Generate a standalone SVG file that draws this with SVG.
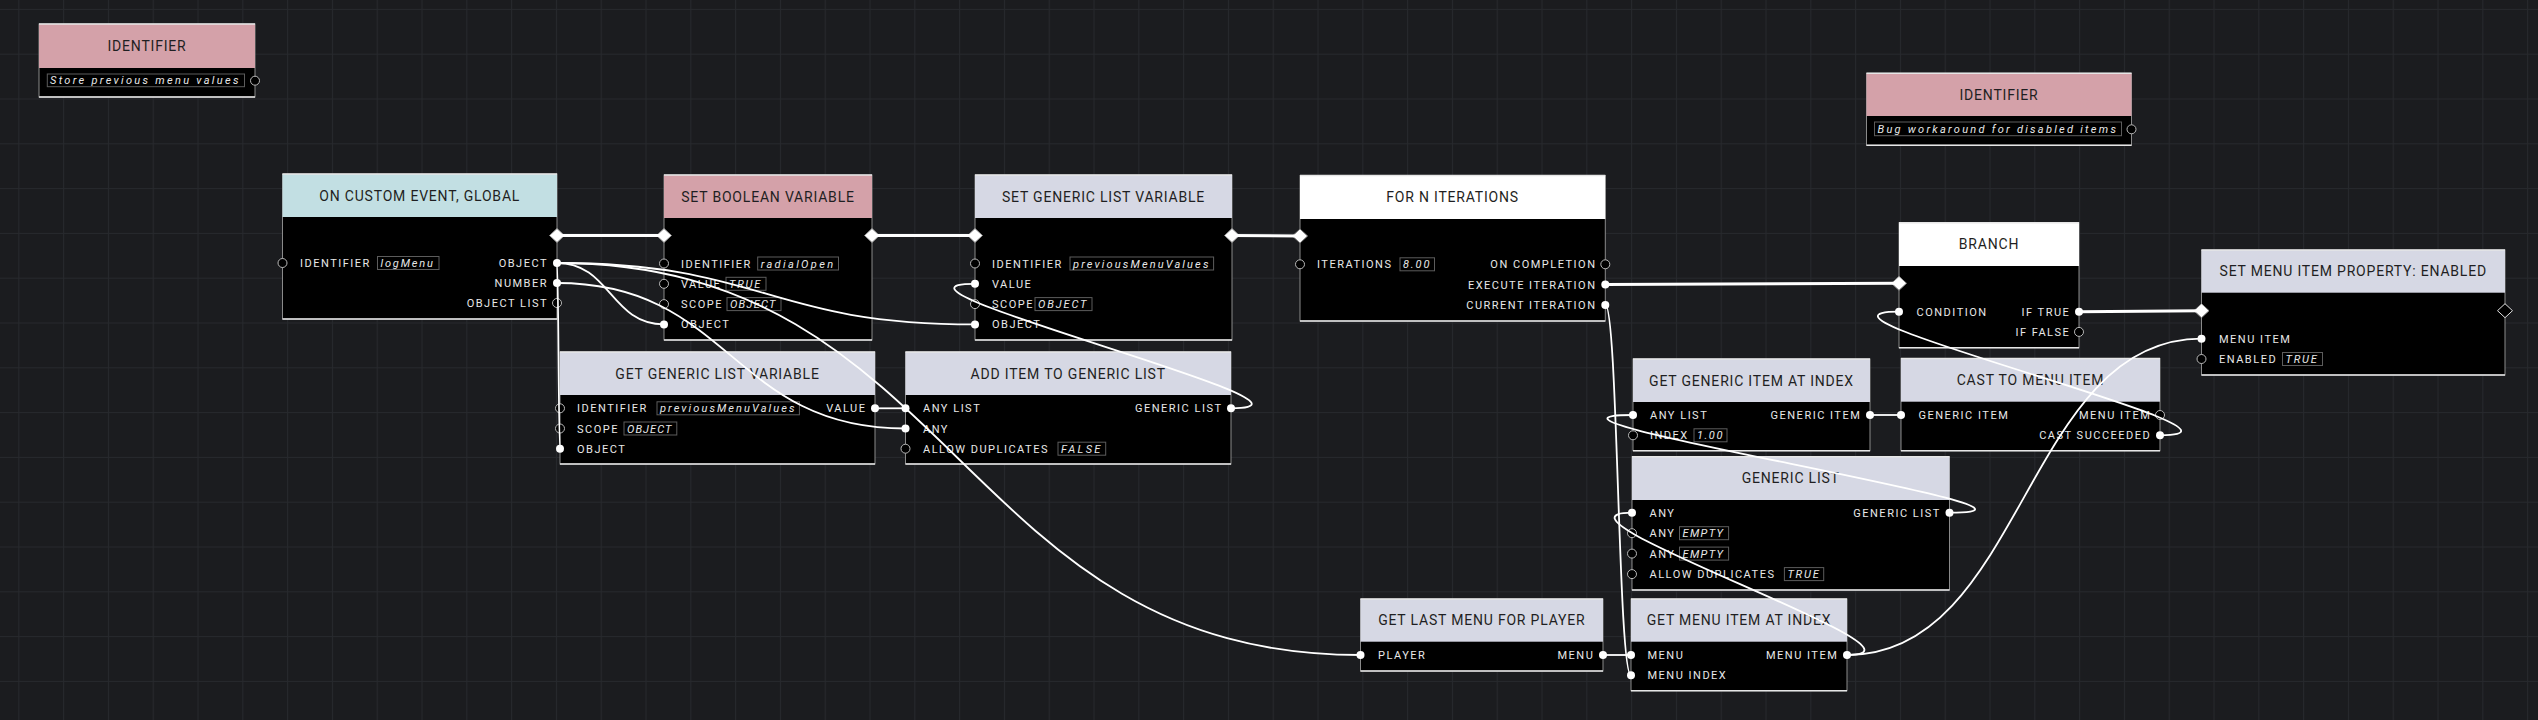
<svg xmlns="http://www.w3.org/2000/svg" xmlns:xlink="http://www.w3.org/1999/xlink" width="2538" height="720" viewBox="0 0 2538 720">
<style>
.bg{fill:#1b1c1f}
.frame{fill:#000;stroke:#8a8a8a;stroke-width:1}
.edge{stroke:#e6e6e6;stroke-width:1.5;fill:none}
.pink{fill:#d4a1a9}.cyan{fill:#c2dfe3}.lav{fill:#d6d8e4}.wht{fill:#fff}
.title{font-family:Roboto,"Liberation Sans",sans-serif;font-size:14px;letter-spacing:0.8px;fill:#1f1f22;text-anchor:middle}
.lbl{font-family:Roboto,"Liberation Sans",sans-serif;font-size:11px;letter-spacing:1.5px;fill:#e8e8e8}
.r{text-anchor:end}
.val{font-family:Roboto,"Liberation Sans",sans-serif;font-size:11px;font-style:italic;letter-spacing:1.6px;fill:#e8e8e8}
.vbox{fill:none;stroke:#5c5c5c;stroke-width:1}
.pf{fill:#fff}
.ph{fill:#000;stroke:#b8b8b8;stroke-width:1}
.df{fill:#fff;stroke:#8a8a8a;stroke-width:1}
.dh{fill:#000;stroke:#e0e0e0;stroke-width:1}
.ex{fill:none;stroke:#fff;stroke-width:3}
.dw{fill:none;stroke:#fff;stroke-width:1.8}
</style>
<defs>
<pattern id="grid" x="18.3" y="8.9" width="44.8" height="44.8" patternUnits="userSpaceOnUse">
<path d="M0,0 H44.8 M0,0 V44.8" stroke="#27292d" stroke-width="2" fill="none"/>
</pattern>
<path id="dmd" d="M-7.5,0 L0,-7 L7.5,0 L0,7 Z"/>
</defs>
<rect class="bg" x="0" y="0" width="2538" height="720"/>
<rect x="0" y="0" width="2538" height="720" fill="url(#grid)"/>

<g id="node-identifier-1">
<rect class="frame" x="39" y="24" width="216" height="73"/>
<rect class="pink" x="39" y="24" width="216" height="44"/>
<path class="edge" d="M39,24 H255 M39,97 H255"/>
<text class="title" x="147" y="51">IDENTIFIER</text>
<rect class="vbox" x="47.3" y="74" width="197.2" height="12.7"/>
<text class="val" x="50" y="84.3" textLength="190" lengthAdjust="spacing">Store previous menu values</text>
<circle class="ph" cx="255" cy="80.7" r="4.5"/>
</g>

<g id="node-on-custom-event">
<rect class="frame" x="282.5" y="174" width="274.5" height="145"/>
<rect class="cyan" x="282.5" y="174" width="274.5" height="43"/>
<path class="edge" d="M282.5,174 H557 M282.5,319 H557"/>
<text class="title" x="419.75" y="200.5">ON CUSTOM EVENT, GLOBAL</text>
<use href="#dmd" class="df" x="557" y="235.5"/>
<circle class="ph" cx="282.5" cy="263" r="4.5"/>
<text class="lbl" x="300" y="267">IDENTIFIER</text>
<rect class="vbox" x="377.5" y="256.5" width="61.5" height="13"/>
<text class="val" x="380.5" y="267" textLength="54" lengthAdjust="spacing">logMenu</text>
<text class="lbl r" x="548" y="267">OBJECT</text>
<circle class="pf" cx="557" cy="263" r="4"/>
<text class="lbl r" x="548" y="287">NUMBER</text>
<circle class="pf" cx="557" cy="283" r="4"/>
<text class="lbl r" x="548" y="307">OBJECT LIST</text>
<circle class="ph" cx="557" cy="303" r="4.5"/>
</g>

<g id="node-set-boolean-variable">
<rect class="frame" x="664" y="175" width="208" height="165"/>
<rect class="pink" x="664" y="175" width="208" height="43"/>
<path class="edge" d="M664,175 H872 M664,340 H872"/>
<text class="title" x="768" y="201.5">SET BOOLEAN VARIABLE</text>
<use href="#dmd" class="df" x="664" y="235.5"/>
<use href="#dmd" class="df" x="872" y="235.5"/>
<circle class="ph" cx="664" cy="263.5" r="4.5"/>
<text class="lbl" x="681" y="267.5">IDENTIFIER</text>
<rect class="vbox" x="757.7" y="257" width="80.8" height="13"/>
<text class="val" x="760.7" y="267.5" textLength="74" lengthAdjust="spacing">radialOpen</text>
<circle class="ph" cx="664" cy="283.8" r="4.5"/>
<text class="lbl" x="681" y="287.8">VALUE</text>
<rect class="vbox" x="726" y="277.3" width="40" height="13"/>
<text class="val" x="729" y="287.8" textLength="33" lengthAdjust="spacing">TRUE</text>
<circle class="ph" cx="664" cy="304.1" r="4.5"/>
<text class="lbl" x="681" y="308.1">SCOPE</text>
<rect class="vbox" x="727" y="297.6" width="54" height="13"/>
<text class="val" x="730" y="308.1" textLength="47" lengthAdjust="spacing">OBJECT</text>
<circle class="pf" cx="664" cy="324.4" r="4"/>
<text class="lbl" x="681" y="328.4">OBJECT</text>
</g>

<g id="node-set-generic-list-variable">
<rect class="frame" x="975" y="175" width="257" height="165"/>
<rect class="lav" x="975" y="175" width="257" height="43"/>
<path class="edge" d="M975,175 H1232 M975,340 H1232"/>
<text class="title" x="1103.5" y="201.5">SET GENERIC LIST VARIABLE</text>
<use href="#dmd" class="df" x="975" y="235.5"/>
<use href="#dmd" class="df" x="1232" y="235.5"/>
<circle class="ph" cx="975" cy="263.5" r="4.5"/>
<text class="lbl" x="992" y="267.5">IDENTIFIER</text>
<rect class="vbox" x="1070" y="257" width="143.6" height="13"/>
<text class="val" x="1073" y="267.5" textLength="137" lengthAdjust="spacing">previousMenuValues</text>
<circle class="pf" cx="975" cy="283.8" r="4"/>
<text class="lbl" x="992" y="287.8">VALUE</text>
<circle class="ph" cx="975" cy="304.1" r="4.5"/>
<text class="lbl" x="992" y="308.1">SCOPE</text>
<rect class="vbox" x="1035" y="297.6" width="57" height="13"/>
<text class="val" x="1038" y="308.1" textLength="50" lengthAdjust="spacing">OBJECT</text>
<circle class="pf" cx="975" cy="324.4" r="4"/>
<text class="lbl" x="992" y="328.4">OBJECT</text>
</g>

<g id="node-for-n-iterations">
<rect class="frame" x="1300" y="175.5" width="305.3" height="145.5"/>
<rect class="wht" x="1300" y="175.5" width="305.3" height="43.5"/>
<path class="edge" d="M1300,175.5 H1605.3 M1300,321 H1605.3"/>
<text class="title" x="1452.6" y="202.2">FOR N ITERATIONS</text>
<use href="#dmd" class="df" x="1300" y="236"/>
<circle class="ph" cx="1300" cy="264.3" r="4.5"/>
<text class="lbl" x="1317" y="268.3">ITERATIONS</text>
<rect class="vbox" x="1400" y="257.8" width="34.5" height="13"/>
<text class="val" x="1403" y="268.3" textLength="28" lengthAdjust="spacing">8.00</text>
<text class="lbl r" x="1596.5" y="268.3">ON COMPLETION</text>
<circle class="ph" cx="1605.3" cy="264.3" r="4.5"/>
<text class="lbl r" x="1596.5" y="288.6">EXECUTE ITERATION</text>
<circle class="pf" cx="1605.3" cy="284.6" r="4"/>
<text class="lbl r" x="1596.5" y="309">CURRENT ITERATION</text>
<circle class="pf" cx="1605.3" cy="305" r="4"/>
</g>

<g id="node-get-generic-list-variable">
<rect class="frame" x="560" y="352" width="315" height="112"/>
<rect class="lav" x="560" y="352" width="315" height="43"/>
<path class="edge" d="M560,352 H875 M560,464 H875"/>
<text class="title" x="717.5" y="378.5">GET GENERIC LIST VARIABLE</text>
<circle class="ph" cx="560" cy="408.3" r="4.5"/>
<text class="lbl" x="577" y="412.3">IDENTIFIER</text>
<rect class="vbox" x="657" y="401.8" width="142.4" height="13"/>
<text class="val" x="660" y="412.3" textLength="136" lengthAdjust="spacing">previousMenuValues</text>
<circle class="ph" cx="560" cy="428.5" r="4.5"/>
<text class="lbl" x="577" y="432.5">SCOPE</text>
<rect class="vbox" x="624" y="422" width="52.8" height="13"/>
<text class="val" x="627" y="432.5" textLength="46" lengthAdjust="spacing">OBJECT</text>
<circle class="pf" cx="560" cy="448.7" r="4"/>
<text class="lbl" x="577" y="452.7">OBJECT</text>
<text class="lbl r" x="866.5" y="412.3">VALUE</text>
<circle class="pf" cx="875" cy="408.3" r="4"/>
</g>

<g id="node-add-item-to-generic-list">
<rect class="frame" x="905.5" y="352" width="325.5" height="112"/>
<rect class="lav" x="905.5" y="352" width="325.5" height="43"/>
<path class="edge" d="M905.5,352 H1231 M905.5,464 H1231"/>
<text class="title" x="1068.25" y="378.5">ADD ITEM TO GENERIC LIST</text>
<circle class="pf" cx="905.5" cy="408.3" r="4"/>
<text class="lbl" x="923" y="412.3">ANY LIST</text>
<circle class="pf" cx="905.5" cy="428.5" r="4"/>
<text class="lbl" x="923" y="432.5">ANY</text>
<circle class="ph" cx="905.5" cy="448.7" r="4.5"/>
<text class="lbl" x="923" y="452.7">ALLOW DUPLICATES</text>
<rect class="vbox" x="1058" y="442.2" width="47.7" height="13"/>
<text class="val" x="1061" y="452.7" textLength="41" lengthAdjust="spacing">FALSE</text>
<text class="lbl r" x="1222.5" y="412.3">GENERIC LIST</text>
<circle class="pf" cx="1231" cy="408.3" r="4"/>
</g>

<g id="node-identifier-2">
<rect class="frame" x="1866.5" y="73.3" width="265" height="72"/>
<rect class="pink" x="1866.5" y="73.3" width="265" height="42.7"/>
<path class="edge" d="M1866.5,73.3 H2131.5 M1866.5,145.3 H2131.5"/>
<text class="title" x="1999" y="99.7">IDENTIFIER</text>
<rect class="vbox" x="1874.5" y="122" width="247" height="13.7"/>
<text class="val" x="1877.5" y="132.8" textLength="240" lengthAdjust="spacing">Bug workaround for disabled items</text>
<circle class="ph" cx="2131.5" cy="129.3" r="4.5"/>
</g>

<g id="node-branch">
<rect class="frame" x="1899" y="222.7" width="180" height="125"/>
<rect class="wht" x="1899" y="222.7" width="180" height="43.3"/>
<path class="edge" d="M1899,222.7 H2079 M1899,347.7 H2079"/>
<text class="title" x="1989" y="249.4">BRANCH</text>
<use href="#dmd" class="df" x="1899" y="283.3"/>
<circle class="pf" cx="1899" cy="311.7" r="4"/>
<text class="lbl" x="1916.5" y="315.7">CONDITION</text>
<text class="lbl r" x="2070.3" y="315.7">IF TRUE</text>
<circle class="pf" cx="2079" cy="311.7" r="4"/>
<text class="lbl r" x="2070.3" y="335.9">IF FALSE</text>
<circle class="ph" cx="2079" cy="331.9" r="4.5"/>
</g>

<g id="node-set-menu-item-property-enabled">
<rect class="frame" x="2201.5" y="250" width="303.5" height="125"/>
<rect class="lav" x="2201.5" y="250" width="303.5" height="42.7"/>
<path class="edge" d="M2201.5,250 H2505 M2201.5,375 H2505"/>
<text class="title" x="2353.25" y="276.4">SET MENU ITEM PROPERTY: ENABLED</text>
<use href="#dmd" class="df" x="2201.5" y="310.7"/>
<use href="#dmd" class="dh" x="2505" y="310.7"/>
<circle class="pf" cx="2201.5" cy="338.7" r="4"/>
<text class="lbl" x="2219" y="342.7">MENU ITEM</text>
<circle class="ph" cx="2201.5" cy="359" r="4.5"/>
<text class="lbl" x="2219" y="363">ENABLED</text>
<rect class="vbox" x="2282.5" y="352.5" width="40" height="13"/>
<text class="val" x="2285.5" y="363" textLength="33" lengthAdjust="spacing">TRUE</text>
</g>

<g id="node-get-generic-item-at-index">
<rect class="frame" x="1633" y="359" width="237" height="91.7"/>
<rect class="lav" x="1633" y="359" width="237" height="43"/>
<path class="edge" d="M1633,359 H1870 M1633,450.7 H1870"/>
<text class="title" x="1751.5" y="385.5">GET GENERIC ITEM AT INDEX</text>
<circle class="pf" cx="1633" cy="415" r="4"/>
<text class="lbl" x="1650" y="419">ANY LIST</text>
<circle class="ph" cx="1633" cy="435.3" r="4.5"/>
<text class="lbl" x="1650" y="439.3">INDEX</text>
<rect class="vbox" x="1694" y="428.8" width="33" height="13"/>
<text class="val" x="1697" y="439.3" textLength="27" lengthAdjust="spacing">1.00</text>
<text class="lbl r" x="1861.3" y="419">GENERIC ITEM</text>
<circle class="pf" cx="1870" cy="415" r="4"/>
</g>

<g id="node-cast-to-menu-item">
<rect class="frame" x="1901" y="358.5" width="259" height="92.2"/>
<rect class="lav" x="1901" y="358.5" width="259" height="43.2"/>
<path class="edge" d="M1901,358.5 H2160 M1901,450.7 H2160"/>
<text class="title" x="2030.5" y="385.1">CAST TO MENU ITEM</text>
<circle class="pf" cx="1901" cy="415" r="4"/>
<text class="lbl" x="1918.5" y="419">GENERIC ITEM</text>
<text class="lbl r" x="2151.3" y="419">MENU ITEM</text>
<circle class="ph" cx="2160" cy="415" r="4.5"/>
<text class="lbl r" x="2151.3" y="439.3">CAST SUCCEEDED</text>
<circle class="pf" cx="2160" cy="435.3" r="4"/>
</g>

<g id="node-generic-list">
<rect class="frame" x="1632" y="456.7" width="317.5" height="133.3"/>
<rect class="lav" x="1632" y="456.7" width="317.5" height="43.3"/>
<path class="edge" d="M1632,456.7 H1949.5 M1632,590 H1949.5"/>
<text class="title" x="1790.75" y="483.4">GENERIC LIST</text>
<circle class="pf" cx="1632" cy="512.7" r="4"/>
<text class="lbl" x="1649.5" y="516.7">ANY</text>
<circle class="ph" cx="1632" cy="533.2" r="4.5"/>
<text class="lbl" x="1649.5" y="537.2">ANY</text>
<rect class="vbox" x="1679.5" y="526.7" width="49.1" height="13"/>
<text class="val" x="1682.5" y="537.2" textLength="42" lengthAdjust="spacing">EMPTY</text>
<circle class="ph" cx="1632" cy="553.6" r="4.5"/>
<text class="lbl" x="1649.5" y="557.6">ANY</text>
<rect class="vbox" x="1679.5" y="547.1" width="49.1" height="13"/>
<text class="val" x="1682.5" y="557.6" textLength="42" lengthAdjust="spacing">EMPTY</text>
<circle class="ph" cx="1632" cy="574.1" r="4.5"/>
<text class="lbl" x="1649.5" y="578.1">ALLOW DUPLICATES</text>
<rect class="vbox" x="1784.4" y="567.6" width="39.3" height="13"/>
<text class="val" x="1787.4" y="578.1" textLength="33" lengthAdjust="spacing">TRUE</text>
<text class="lbl r" x="1940.8" y="516.7">GENERIC LIST</text>
<circle class="pf" cx="1949.5" cy="512.7" r="4"/>
</g>

<g id="node-get-last-menu-for-player">
<rect class="frame" x="1360.5" y="599" width="242.5" height="72"/>
<rect class="lav" x="1360.5" y="599" width="242.5" height="42.7"/>
<path class="edge" d="M1360.5,599 H1603 M1360.5,671 H1603"/>
<text class="title" x="1481.75" y="625.4">GET LAST MENU FOR PLAYER</text>
<circle class="pf" cx="1360.5" cy="655" r="4"/>
<text class="lbl" x="1378" y="659">PLAYER</text>
<text class="lbl r" x="1594.3" y="659">MENU</text>
<circle class="pf" cx="1603" cy="655" r="4"/>
</g>

<g id="node-get-menu-item-at-index">
<rect class="frame" x="1631" y="599" width="216" height="91.7"/>
<rect class="lav" x="1631" y="599" width="216" height="42.7"/>
<path class="edge" d="M1631,599 H1847 M1631,690.7 H1847"/>
<text class="title" x="1739" y="625.4">GET MENU ITEM AT INDEX</text>
<circle class="pf" cx="1631" cy="655" r="4"/>
<text class="lbl" x="1647.5" y="659">MENU</text>
<circle class="pf" cx="1631" cy="675.3" r="4"/>
<text class="lbl" x="1647.5" y="679.3">MENU INDEX</text>
<text class="lbl r" x="1838.3" y="659">MENU ITEM</text>
<circle class="pf" cx="1847" cy="655" r="4"/>
</g>

<g id="connectors">
<path class="ex" d="M557,235.5 L664,235.5"/>
<path class="ex" d="M872,235.5 L975,235.5"/>
<path class="ex" d="M1232,235.5 L1300,236"/>
<path class="ex" d="M1605.3,284.6 L1899,283.3"/>
<path class="ex" d="M2079,311.7 L2201.5,310.7"/>
<path class="dw" d="M557,263 C610.5,263 610.5,324.4 664,324.4"/>
<path class="dw" d="M557,263 C766,263 766,324.4 975,324.4"/>
<path class="dw" d="M557,263 C558.5,263 558.5,448.7 560,448.7"/>
<path class="dw" d="M557,263 C958.7,263 958.7,655 1360.5,655"/>
<path class="dw" d="M557,283 C731,283 731,428.5 905.5,428.5"/>
<path class="dw" d="M875,408.3 L905.5,408.3"/>
<path class="dw" d="M1231,408.3 C1359,408.3 847,283.8 975,283.8"/>
<path class="dw" d="M1605.3,305 C1618,305 1618,675.3 1631,675.3"/>
<path class="dw" d="M1870,415 L1901,415"/>
<path class="dw" d="M2160,435.3 C2290.5,435.3 1768.5,311.7 1899,311.7"/>
<path class="dw" d="M1949.5,512.7 C2107.5,512.7 1475,415 1633,415"/>
<path class="dw" d="M1847,655 C1954.5,655 1524.5,512.7 1632,512.7"/>
<path class="dw" d="M1847,655 C2024,655 2024.5,338.7 2201.5,338.7"/>
<path class="dw" d="M1603,655 L1631,655"/>
</g>
</svg>
